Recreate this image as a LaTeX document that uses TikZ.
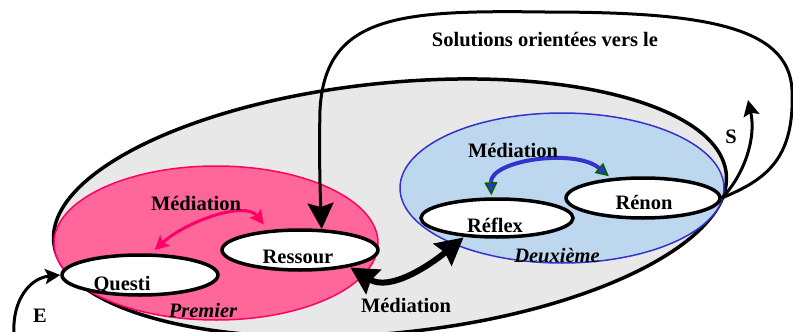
\documentclass[tikz,border=0pt]{standalone}
\usepackage{fontspec}
\setmainfont{Liberation Serif}
\usetikzlibrary{arrows.meta,shapes.geometric,calc}
\definecolor{grayfill}{HTML}{E8E8E8}
\definecolor{pinkfill}{HTML}{FF6699}
\definecolor{pinkline}{HTML}{FF0066}
\definecolor{bluefill}{HTML}{BDD7EE}
\definecolor{blueline}{HTML}{3333CC}
\definecolor{greenline}{HTML}{006600}
\begin{document}
\begin{tikzpicture}[x=1pt,y=-1pt,
  wbox/.style={ellipse,draw=black,fill=white,line width=3.5pt,inner sep=0pt,minimum width=156pt,minimum height=40pt},
  lbl/.style={font=\fontsize{20.5}{24}\selectfont\bfseries,inner sep=0pt,anchor=base},
  ilbl/.style={lbl,font=\fontsize{20.5}{24}\selectfont\bfseries\itshape},
  blk/.style={draw=black,line width=3pt},
  pinkarr/.style={draw=pinkline,line width=3pt,{Stealth[length=14pt,width=14pt,inset=2.5pt]}-{Stealth[length=14pt,width=14pt,inset=2.5pt]}},
  bluearr/.style={draw=blueline,line width=4pt,{Triangle[length=13pt,width=13pt,fill=blueline,color=greenline,line width=1.5pt]}-{Triangle[length=13pt,width=13pt,fill=blueline,color=greenline,line width=1.5pt]}},
  thickarr/.style={draw=black,line width=6pt,{Stealth[length=27pt,width=28pt,inset=3pt]}-{Stealth[length=27pt,width=28pt,inset=3pt]}}
]
\useasboundingbox (0,0) rectangle (793,332);
\clip (0,0) rectangle (793,332);
\fill[white] (0,0) rectangle (793,332);
% outer field
\draw[fill=grayfill,line width=3.5pt,rotate around={5.85:(390,208)}] (390,208) ellipse [x radius=338pt,y radius=125pt];
% first and second zones
\draw[fill=pinkfill,draw=pinkline,line width=1.5pt] (216,243) ellipse [x radius=162pt,y radius=77pt];
\draw[fill=bluefill,draw=blueline,line width=1.5pt] (562,188) ellipse [x radius=162pt,y radius=75pt];
% white ellipses
\node[wbox] (questi) at (140,275) {};
\node[wbox] (ressour) at (300,250) {};
\node[wbox,minimum width=152pt,minimum height=38pt] (reflex) at (497,218) {};
\node[wbox,minimum width=154pt] (renon) at (643,198) {};
\node[lbl] (tquesti) at (122,290) {Questi};
\node[lbl] (tressour) at (298,263) {Ressour};
\node[lbl] (treflex) at (495,232) {Réflex};
\node[lbl] (trenon) at (644,209) {Rénon};
% free ends
\coordinate (estart) at (14,334);
\coordinate (stip) at (748,100);
% connectors
\draw[blk,-{Stealth[length=26pt,width=26pt,inset=4pt]}] (renon.east) .. controls (765,180) and (795,160) .. (792,90) .. controls (789,25) and (700,12) .. (545,12) .. controls (400,10) and (325,15) .. (320,110) .. controls (319,150) and (320,190) .. (ressour.44);
\draw[blk,-{Stealth[length=16pt,width=16pt,inset=3pt]}] (renon.east) .. controls (742,178) and (757,140) .. (stip);
\draw[blk,-{Stealth[length=15pt,width=15pt,inset=3pt]}] (estart) .. controls (12,300) and (30,278) .. (questi.west);
\draw[pinkarr,shorten <=5pt,shorten >=7pt] (questi.63) .. controls (185,222) and (245,200) .. (ressour.148);
\draw[bluearr,shorten <=2pt,shorten >=3pt] (reflex.105) .. controls (490,160) and (575,148) .. (renon.148);
\draw[thickarr,shorten <=1pt,shorten >=1pt] (ressour.-19) .. controls (390,292) and (430,265) .. (reflex.210);
% labels
\node[lbl] (med1) at (196,210) {Médiation};
\node[lbl] (med2) at (513,157) {Médiation};
\node[lbl] (med3) at (406,312) {Médiation};
\node[lbl] (sol) at (545,46) {Solutions orientées vers le};
\node[lbl] (le) at (40,322) {E};
\node[lbl] (ls) at (731,143) {S};
\node[ilbl] (prem) at (203,317) {Premier};
\node[ilbl] (deux) at (557,262) {Deuxième};
\end{tikzpicture}
\end{document}
